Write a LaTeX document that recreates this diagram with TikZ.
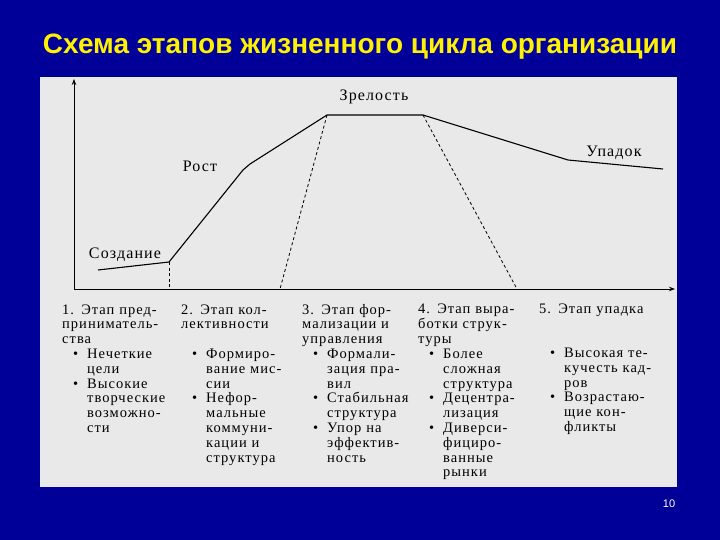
\documentclass[tikz,border=0pt]{standalone}
\usepackage{fontspec}
\setmainfont{Liberation Serif}[LetterSpace=7]
\setsansfont{Liberation Sans}
\usetikzlibrary{arrows.meta}
\definecolor{slideblue}{HTML}{000099}
\definecolor{panelgray}{HTML}{E9E9E9}
\newcommand\stagepoint{\par\leftskip=25pt\noindent\llap{\makebox[14pt][l]{\textbullet}}}
\begin{document}
\begin{tikzpicture}[x=1pt,y=-1pt,
        phase/.style={inner sep=0pt, font=\fontsize{16}{18}\selectfont},
        stagecol/.style={anchor=north west, inner sep=0pt, text width=125pt, align=left, font=\fontsize{14.5}{14.8}\selectfont, execute at begin node=\strut},
        curve/.style={line width=1.1pt, line join=round},
        guide/.style={line width=0.8pt, dash pattern=on 3pt off 2.5pt},
        axis/.style={line width=0.9pt, -{Stealth[length=6pt,width=4.5pt]}}]
        \fill[slideblue] (0,0) rectangle (720,540);
        \fill[panelgray] (40,77) rectangle (677,487);
        \node[text=yellow, font=\fontsize{28}{32}\selectfont\sffamily\bfseries] (title) at (360,47) {Схема этапов жизненного цикла организации};
        \node[text=white, font=\fontsize{11}{13}\selectfont\sffamily] (pagenum) at (669,504) {10};

        % axes
        \coordinate (origin) at (74,289);
        \coordinate (ytop) at (74,79);
        \coordinate (xend) at (675,289);
        \draw[axis] (origin) -- (ytop);
        \draw[axis] (origin) -- (xend);

        % life cycle curve
        \coordinate (c0) at (98,270);
        \coordinate (c1) at (169,262);
        \coordinate (c2) at (243,170);
        \coordinate (c3) at (250,164);
        \coordinate (c4) at (327,115);
        \coordinate (c5) at (423,115);
        \coordinate (c6) at (568,160);
        \coordinate (c7) at (663,169);
        \draw[curve] (c0) -- (c1) -- (c2) -- (c3) -- (c4) -- (c5) -- (c6) -- (c7);

        % stage borders
        \coordinate (b1) at (169,289);
        \coordinate (b2) at (280,289);
        \coordinate (b3) at (517,289);
        \draw[guide] (c1) -- (b1);
        \draw[guide] (c4) -- (b2);
        \draw[guide] (c5) -- (b3);

        \node[phase] (birth) at (125,255) {Создание};
        \node[phase] (growth) at (200,166) {Рост};
        \node[phase] (maturity) at (374,97) {Зрелость};
        \node[phase] (decline) at (614,153) {Упадок};

        % stages
        \node[stagecol] (s1) at (62,303.5) {1. Этап пред-\\приниматель-\\ства
                \stagepoint Нечеткие\\цели
                \stagepoint Высокие\\творческие\\возможно-\\сти\par};
        \node[stagecol] (s2) at (181,303.5) {2. Этап кол-\\лективности\par\vspace{14.8pt}
                \stagepoint Формиро-\\вание мис-\\сии
                \stagepoint Нефор-\\мальные\\коммуни-\\кации и\\структура\par};
        \node[stagecol] (s3) at (302,303.5) {3. Этап фор-\\мализации и\\управления
                \stagepoint Формали-\\зация пра-\\вил
                \stagepoint Стабильная\\структура
                \stagepoint Упор на\\эффектив-\\ность\par};
        \node[stagecol] (s4) at (418,302.5) {4. Этап выра-\\ботки струк-\\туры
                \stagepoint Более\\сложная\\структура
                \stagepoint Децентра-\\лизация
                \stagepoint Диверси-\\фициро-\\ванные\\рынки\par};
        \node[stagecol] (s5) at (539,302.5) {5. Этап упадка\par\vspace{29.6pt}
                \stagepoint Высокая те-\\кучесть кад-\\ров
                \stagepoint Возрастаю-\\щие кон-\\фликты\par};
\end{tikzpicture}
\end{document}
